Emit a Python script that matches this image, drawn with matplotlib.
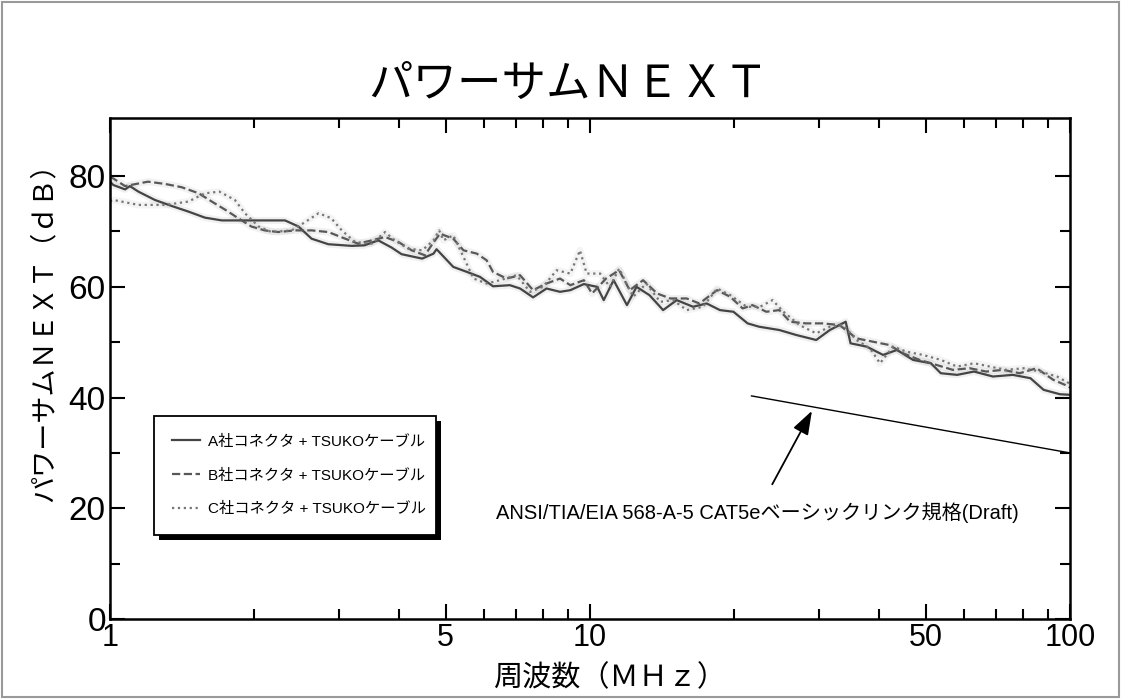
import matplotlib
matplotlib.use("Agg")
import matplotlib.pyplot as plt
from matplotlib.patches import Rectangle
from matplotlib.ticker import FixedLocator, NullFormatter

plt.rcParams["font.family"] = ["Liberation Sans", "Noto Sans CJK JP"]

# A社 (solid)
freq_a = [1.0, 1.016, 1.075, 1.10, 1.146, 1.24, 1.345, 1.456, 1.577, 1.71, 1.91, 2.315,
          2.47, 2.63, 2.85, 3.19, 3.39, 3.62, 3.86, 4.05, 4.47, 4.72, 4.79, 5.19, 5.54,
          5.90, 6.28, 6.81, 7.15, 7.61, 8.12, 8.66, 9.10, 9.71, 10.35, 10.68, 11.2, 11.94,
          12.5, 13.3, 14.2, 15.16, 16.4, 17.5, 18.65, 19.9, 21.3, 22.5, 24.8, 26.9, 29.6,
          31.6, 34.1, 34.9, 37.7, 40.8, 43.6, 47.1, 51.3, 53.8, 58.2, 63.1, 69.1, 76.0,
          82.7, 88.1, 95.3, 100.0]
db_a = [79.0, 78.4, 77.6, 78.2, 77.2, 75.7, 74.6, 73.6, 72.5, 72.0, 72.0, 72.0,
        70.9, 68.7, 67.7, 67.4, 67.5, 68.4, 67.1, 65.9, 65.1, 66.0, 66.8, 63.6, 62.7,
        61.8, 60.1, 60.3, 59.7, 58.1, 59.7, 59.1, 59.4, 60.5, 60.0, 57.6, 61.2, 56.7,
        60.0, 58.5, 55.8, 57.6, 56.4, 57.0, 55.8, 55.5, 53.4, 52.8, 52.2, 51.3, 50.4,
        52.2, 53.7, 49.8, 49.2, 47.7, 48.6, 46.8, 46.2, 44.4, 44.1, 44.7, 43.8, 44.1,
        43.5, 41.4, 40.6, 40.5]

# B社 (dashed)
freq_b = [1.0, 1.015, 1.075, 1.20, 1.30, 1.41, 1.53, 1.63, 1.74, 1.85, 1.97, 2.10, 2.24,
          2.43, 2.63, 2.85, 3.09, 3.29, 3.51, 3.74, 3.99, 4.25, 4.53, 4.70, 4.87, 5.19,
          5.45, 5.81, 6.09, 6.28, 6.70, 7.15, 7.61, 8.12, 8.66, 9.10, 9.71, 10.1, 10.8,
          11.5, 12.1, 12.9, 13.8, 14.7, 15.9, 16.9, 18.4, 19.6, 20.8, 21.8, 23.3, 24.8,
          26.1, 28.2, 30.5, 33.1, 35.9, 38.8, 42.0, 44.9, 48.6, 52.7, 57.0, 61.8, 66.9,
          72.5, 78.6, 85.2, 92.3, 97.6, 100.0]
db_b = [79.8, 79.6, 78.2, 79.0, 78.6, 78.0, 76.9, 75.4, 73.9, 72.4, 70.9, 70.2, 69.9,
        70.2, 70.2, 69.9, 68.7, 67.8, 68.4, 69.0, 68.1, 66.6, 65.7, 67.8, 69.6, 68.7,
        66.6, 66.0, 64.8, 62.7, 61.5, 62.1, 59.4, 60.6, 61.5, 60.3, 61.2, 58.8, 61.5,
        63.0, 59.4, 61.2, 58.8, 57.9, 57.9, 57.0, 59.4, 58.2, 56.1, 56.7, 55.5, 55.8,
        53.7, 53.4, 53.4, 53.1, 50.7, 50.1, 49.5, 48.0, 46.8, 45.9, 45.0, 45.3, 44.7,
        45.0, 44.4, 45.3, 43.2, 42.3, 41.8]

# C社 (dotted)
freq_c = [1.0, 1.016, 1.146, 1.30, 1.456, 1.577, 1.69, 1.82, 1.91, 2.04, 2.17, 2.39, 2.55,
          2.72, 2.89, 3.04, 3.24, 3.51, 3.74, 3.92, 4.18, 4.47, 4.72, 4.85, 4.95, 5.19,
          5.45, 5.72, 6.09, 6.49, 7.03, 7.50, 7.98, 8.52, 9.10, 9.53, 9.84, 10.5, 11.0,
          11.5, 12.3, 13.1, 14.0, 14.9, 15.9, 17.2, 18.4, 19.6, 21.2, 22.6, 24.0, 25.3,
          27.3, 29.6, 31.6, 33.7, 35.9, 38.3, 40.2, 42.8, 45.6, 49.4, 53.8, 58.2, 63.1,
          68.1, 73.7, 80.0, 86.6, 94.0, 100.0]
db_c = [75.5, 75.7, 74.8, 74.8, 75.4, 76.9, 77.2, 75.7, 73.3, 70.9, 69.9, 70.2, 71.7,
        73.3, 72.4, 70.2, 68.1, 67.8, 69.9, 68.4, 66.9, 66.6, 68.4, 70.2, 68.4, 69.3,
        65.4, 61.5, 60.6, 61.2, 62.1, 59.1, 60.0, 63.0, 62.4, 66.6, 62.4, 62.4, 60.0,
        63.3, 58.2, 60.6, 57.3, 57.6, 55.8, 56.4, 59.7, 58.5, 56.4, 56.4, 57.6, 55.5,
        53.1, 51.6, 52.8, 53.1, 50.4, 48.9, 46.2, 49.2, 48.3, 47.7, 46.8, 45.6, 46.2,
        45.6, 45.0, 45.3, 44.7, 43.8, 42.5]

# ANSI/TIA/EIA 568-A-5 CAT5e basic link limit
std_freq = [21.7, 100.0]
std_db = [40.3, 30.0]

series = [
    (freq_a, db_a, "A社コネクタ + TSUKOケーブル", "-", "#444444"),
    (freq_b, db_b, "B社コネクタ + TSUKOケーブル", "--", "#585858"),
    (freq_c, db_c, "C社コネクタ + TSUKOケーブル", ":", "#767676"),
]

fig = plt.figure(figsize=(11.21, 6.99), dpi=100)
ax = fig.add_axes([110 / 1121, 80 / 699, 960 / 1121, 501 / 699])

for f, d, label, ls, col in series:
    ax.plot(f, d, color=col, lw=5, alpha=0.08, solid_capstyle="round")
for f, d, label, ls, col in series:
    ax.plot(f, d, ls, color=col, lw=1.6, label=label)

ax.plot(std_freq, std_db, color="black", lw=1.0)
ax.annotate("ANSI/TIA/EIA 568-A-5 CAT5eベーシックリンク規格(Draft)",
            xy=(29.0, 37.6), xytext=(22.3, 19.3), ha="center", va="center", fontsize=14.5,
            arrowprops=dict(arrowstyle="-|>,head_length=1.0,head_width=0.35",
                            color="black", lw=1.3, shrinkA=12, shrinkB=0))

ax.set_xscale("log")
ax.set_xlim(1, 100)
ax.set_ylim(0, 90.5)
ax.xaxis.set_major_locator(FixedLocator([1, 5, 10, 50, 100]))
ax.xaxis.set_minor_locator(FixedLocator([2, 3, 4, 6, 7, 8, 9, 20, 30, 40, 60, 70, 80, 90]))
ax.xaxis.set_minor_formatter(NullFormatter())
ax.set_xticklabels(["1", "5", "10", "50", "100"])
ax.yaxis.set_major_locator(FixedLocator([0, 20, 40, 60, 80]))
ax.yaxis.set_minor_locator(FixedLocator([10, 30, 50, 70]))
ax.tick_params(which="both", direction="in", top=True, right=True, width=1.5)
ax.tick_params(which="major", length=11)
ax.tick_params(which="minor", length=7)
ax.tick_params(axis="x", labelsize=22, pad=3)
ax.tick_params(axis="y", labelsize=24, pad=3)
for s in ax.spines.values():
    s.set_linewidth(1.8)

leg = ax.legend(loc="lower left", bbox_to_anchor=(0.046, 0.168, 0.294, 0.234), mode="expand",
                fontsize=11, frameon=True, fancybox=False, framealpha=1,
                edgecolor="black", handlelength=1.8, handletextpad=0.5, labelspacing=1.3,
                borderpad=1.2, borderaxespad=0)
leg.get_frame().set_linewidth(1.3)
leg.set_zorder(5)

fig.text(0.507, 1 - 85 / 699, "パワーサムＮＥＸＴ", ha="center", va="center", fontsize=32)
fig.text(610 / 1121, 1 - 678 / 699, "周波数（ＭＨｚ）", ha="center", va="center", fontsize=21)
fig.text(45 / 1121, 1 - 326 / 699, "パワーサムＮＥＸＴ（ｄＢ）", ha="center", va="center",
         rotation=90, fontsize=19.5)

# legend drop shadow, offset a few pixels down-right
fig.canvas.draw()
bb = leg.get_frame().get_window_extent()
ax.add_patch(Rectangle((bb.x0 + 5, bb.y0 - 5), bb.width, bb.height, transform=None,
                       facecolor="black", edgecolor="none", zorder=4))

fig.patches.append(Rectangle((2 / 1121, 2 / 699), 1 - 4 / 1121, 1 - 4 / 699,
                             transform=fig.transFigure, fill=False, edgecolor="#999999", lw=1.5))

fig.savefig("out.png", dpi=100)
